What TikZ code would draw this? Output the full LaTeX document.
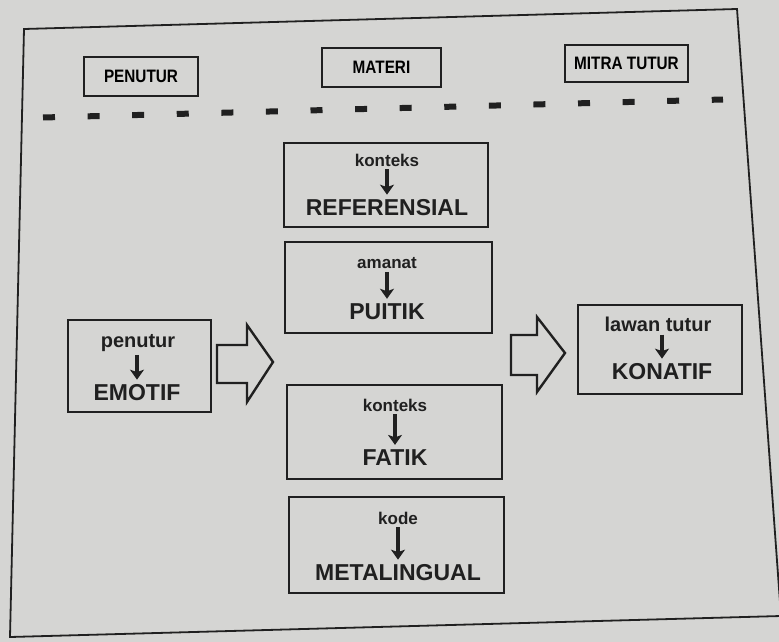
\documentclass[tikz,border=0pt]{standalone}
\usepackage{fontspec}
\setmainfont{Liberation Sans}
\usetikzlibrary{arrows.meta}
\definecolor{paper}{HTML}{D5D5D3}
\definecolor{ink}{HTML}{202020}
\tikzset{
  box/.style={draw=ink, line width=2.2pt, inner sep=0pt, rectangle},
  hdr/.style={box, line width=2pt, font=\bfseries\fontsize{18}{18}\selectfont},
  big/.style={inner sep=0pt, text=ink, font=\bfseries\fontsize{23}{23}\selectfont},
  small/.style={inner sep=0pt, text=ink, font=\bfseries\fontsize{17}{17}\selectfont},
  side/.style={inner sep=0pt, text=ink, font=\bfseries\fontsize{20}{20}\selectfont},
  downarr/.style={draw=ink, line width=3.2pt, -{Stealth[length=10pt,width=14pt,inset=2.5pt]}, shorten <=3pt, shorten >=5pt},
  blockarr/.style={draw=ink, line width=2.4pt, line join=miter},
}
\newcommand{\narrow}[1]{\scalebox{0.85}[1]{#1}}
\begin{document}
\begin{tikzpicture}[x=1pt,y=-1pt]
\useasboundingbox (0,0) rectangle (779,642);
\fill[paper] (0,0) rectangle (779,642);
% outer frame
\draw[ink, line width=1.8pt] (24,29) -- (737,9) -- (781,616) -- (10,637) -- cycle;
% headers
\node[hdr, minimum width=114pt, minimum height=39pt] (hpen) at (141,76.5) {\narrow{PENUTUR}};
\node[hdr, minimum width=119pt, minimum height=39pt] (hmat) at (381.5,67.5) {\narrow{MATERI}};
\node[hdr, minimum width=123pt, minimum height=37pt] (hmit) at (626.5,63.5) {\narrow{MITRA TUTUR}};
% dashed separator
\coordinate (dA) at (43,117.5);
\coordinate (dB) at (723,99.5);
\draw[ink, line width=6pt, dash pattern=on 12pt off 32.6pt] (dA) -- (dB);
% boxes
\node[box, minimum width=204pt, minimum height=84pt] (bref) at (386,185) {};
\node[box, minimum width=207pt, minimum height=91pt] (bpui) at (388.5,287.5) {};
\node[box, minimum width=215pt, minimum height=94pt] (bfat) at (394.5,432) {};
\node[box, minimum width=215pt, minimum height=96pt] (bmet) at (396.5,545) {};
\node[box, minimum width=143pt, minimum height=92pt] (bemo) at (139.5,366) {};
\node[box, minimum width=164pt, minimum height=89pt] (bkon) at (660,349.5) {};
% texts
\node[small] (t1) at (387,160) {konteks};
\node[big] (l1) at (387,208) {REFERENSIAL};
\node[small] (t2) at (387,263) {amanat};
\node[big] (l2) at (387,312) {PUITIK};
\node[small] (t3) at (395,405) {konteks};
\node[big] (l3) at (395,458) {FATIK};
\node[small] (t4) at (398,518) {kode};
\node[big] (l4) at (398,573) {METALINGUAL};
\node[side] (t5) at (138,343) {penutur};
\node[big] (l5) at (137,393) {EMOTIF};
\node[side] (t6) at (658,324) {lawan tutur};
\node[big] (l6) at (662,372) {KONATIF};
\draw[downarr] (t1) -- (l1);
\draw[downarr] (t2) -- (l2);
\draw[downarr] (t3) -- (l3);
\draw[downarr] (t4) -- (l4);
\draw[downarr] (t5.south -| l5) -- (l5);
\draw[downarr] (t6.south -| l6) -- (l6);
% block arrows
\draw[blockarr] (217,345) -- (247,345) -- (247,325) -- (273,362) -- (247,402) -- (247,383) -- (217,383) -- cycle;
\draw[blockarr] (511,335) -- (537,335) -- (537,317) -- (565,353) -- (537,392) -- (537,375) -- (511,375) -- cycle;
\end{tikzpicture}
\end{document}
